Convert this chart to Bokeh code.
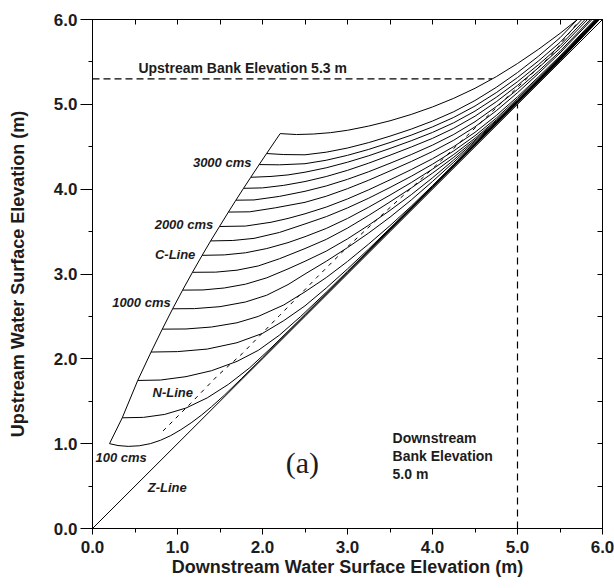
from bokeh.plotting import figure
from bokeh.models import Range1d, LinearAxis, Label, FixedTicker, PrintfTickFormatter
from bokeh.embed import file_html
from bokeh.resources import INLINE

# Rating curves: upstream vs downstream water surface elevation (m), one per discharge
flows_cms = [100, 200, 400, 600, 800, 1000, 1200, 1400, 1600, 1800,
             2000, 2200, 2400, 2600, 2800, 3000, 3200, 3400]

rating_x = [
    [0.20, 0.30, 0.42, 0.55, 0.68, 0.80, 0.92, 1.04, 1.16, 1.28, 1.40, 1.55, 1.75, 2.00, 2.50, 3.00, 3.50, 4.00, 4.50, 5.00, 5.50, 5.965],
    [0.35, 0.60, 0.85, 1.10, 1.35, 1.60, 1.85, 2.10, 2.50, 3.00, 3.50, 4.00, 4.50, 5.00, 5.50, 5.96],
    [0.532, 0.80, 1.10, 1.40, 1.70, 1.95, 2.20, 2.45, 2.75, 3.00, 3.50, 4.00, 4.50, 5.00, 5.50, 5.955],
    [0.689, 1.00, 1.35, 1.70, 2.00, 2.25, 2.50, 2.75, 3.00, 3.25, 3.50, 3.75, 4.00, 4.50, 5.00, 5.50, 5.951],
    [0.821, 1.10, 1.40, 1.70, 1.95, 2.25, 2.50, 2.75, 3.00, 3.25, 3.50, 3.75, 4.00, 4.25, 4.50, 4.75, 5.00, 5.25, 5.50, 5.948],
    [0.943, 1.20, 1.50, 1.80, 2.05, 2.30, 2.50, 2.75, 3.00, 3.25, 3.50, 3.75, 4.00, 4.25, 4.50, 4.75, 5.00, 5.25, 5.50, 5.943],
    [1.06, 1.30, 1.55, 1.80, 2.05, 2.30, 2.50, 2.75, 3.00, 3.25, 3.50, 3.75, 4.00, 4.25, 4.50, 4.75, 5.00, 5.25, 5.50, 5.938],
    [1.176, 1.45, 1.70, 1.95, 2.20, 2.50, 2.75, 3.00, 3.25, 3.50, 3.75, 4.00, 4.25, 4.50, 4.75, 5.00, 5.25, 5.50, 5.932],
    [1.29, 1.55, 1.80, 2.05, 2.30, 2.50, 2.75, 3.00, 3.25, 3.50, 3.75, 4.00, 4.25, 4.50, 4.75, 5.00, 5.25, 5.50, 5.927],
    [1.39, 1.65, 1.90, 2.20, 2.50, 2.75, 3.00, 3.25, 3.50, 3.75, 4.00, 4.25, 4.50, 4.75, 5.00, 5.25, 5.50, 5.92],
    [1.494, 1.80, 2.10, 2.30, 2.50, 2.75, 3.00, 3.25, 3.50, 3.75, 4.00, 4.25, 4.50, 4.75, 5.00, 5.25, 5.50, 5.91],
    [1.599, 1.85, 2.15, 2.50, 2.75, 3.00, 3.25, 3.50, 3.75, 4.00, 4.25, 4.50, 4.75, 5.00, 5.25, 5.50, 5.876],
    [1.687, 1.90, 2.20, 2.50, 2.75, 3.00, 3.25, 3.50, 3.75, 4.00, 4.25, 4.50, 4.75, 5.00, 5.25, 5.50, 5.857],
    [1.777, 2.00, 2.25, 2.50, 2.75, 3.00, 3.25, 3.50, 3.75, 4.00, 4.25, 4.50, 4.75, 5.00, 5.25, 5.50, 5.824],
    [1.862, 2.10, 2.30, 2.50, 2.75, 3.00, 3.25, 3.50, 3.75, 4.00, 4.25, 4.50, 4.75, 5.00, 5.25, 5.50, 5.795],
    [1.961, 2.20, 2.50, 2.75, 3.00, 3.25, 3.50, 3.75, 4.00, 4.25, 4.50, 4.75, 5.00, 5.25, 5.50, 5.757],
    [2.048, 2.25, 2.50, 2.75, 3.00, 3.25, 3.50, 3.75, 4.00, 4.25, 4.50, 4.75, 5.00, 5.25, 5.50, 5.705],
    [2.208, 2.40, 2.60, 2.80, 3.00, 3.25, 3.50, 3.75, 4.00, 4.25, 4.50, 4.75, 5.00, 5.25, 5.50, 5.70],
]

rating_y = [
    [1.00, 0.978, 0.968, 0.975, 1.00, 1.04, 1.095, 1.165, 1.245, 1.335, 1.435, 1.57, 1.765, 2.012, 2.512, 3.013, 3.513, 4.014, 4.515, 5.014, 5.514, 6.00],
    [1.305, 1.31, 1.345, 1.42, 1.54, 1.70, 1.895, 2.128, 2.522, 3.022, 3.52, 4.02, 4.521, 5.02, 5.518, 6.00],
    [1.745, 1.75, 1.79, 1.86, 1.97, 2.10, 2.28, 2.50, 2.785, 3.032, 3.53, 4.029, 4.527, 5.025, 5.522, 6.00],
    [2.08, 2.085, 2.115, 2.19, 2.30, 2.45, 2.625, 2.835, 3.06, 3.295, 3.54, 3.787, 4.035, 4.533, 5.03, 5.526, 6.00],
    [2.35, 2.352, 2.375, 2.425, 2.50, 2.635, 2.79, 2.958, 3.148, 3.354, 3.57, 3.799, 4.042, 4.292, 4.54, 4.786, 5.033, 5.281, 5.53, 6.00],
    [2.59, 2.592, 2.615, 2.67, 2.75, 2.875, 3.00, 3.15, 3.311, 3.484, 3.67, 3.873, 4.091, 4.318, 4.55, 4.788, 5.034, 5.284, 5.535, 6.00],
    [2.81, 2.812, 2.835, 2.88, 2.955, 3.06, 3.15, 3.27, 3.414, 3.576, 3.75, 3.935, 4.134, 4.345, 4.565, 4.796, 5.039, 5.289, 5.54, 6.00],
    [3.02, 3.022, 3.045, 3.095, 3.18, 3.30, 3.408, 3.541, 3.691, 3.85, 4.014, 4.189, 4.376, 4.58, 4.804, 5.044, 5.294, 5.546, 6.00],
    [3.22, 3.225, 3.25, 3.30, 3.37, 3.44, 3.537, 3.655, 3.788, 3.93, 4.078, 4.236, 4.409, 4.60, 4.816, 5.052, 5.301, 5.552, 6.00],
    [3.39, 3.395, 3.42, 3.49, 3.59, 3.676, 3.779, 3.894, 4.02, 4.152, 4.294, 4.451, 4.63, 4.837, 5.068, 5.312, 5.56, 6.00],
    [3.56, 3.565, 3.61, 3.655, 3.71, 3.789, 3.885, 3.993, 4.11, 4.231, 4.359, 4.502, 4.67, 4.868, 5.089, 5.327, 5.57, 6.00],
    [3.73, 3.733, 3.78, 3.845, 3.917, 4.006, 4.106, 4.215, 4.326, 4.444, 4.577, 4.735, 4.924, 5.137, 5.367, 5.605, 6.00],
    [3.87, 3.873, 3.915, 3.975, 4.038, 4.116, 4.206, 4.305, 4.408, 4.519, 4.645, 4.795, 4.973, 5.175, 5.394, 5.625, 6.00],
    [4.01, 4.015, 4.045, 4.09, 4.149, 4.222, 4.307, 4.40, 4.497, 4.599, 4.718, 4.86, 5.03, 5.223, 5.434, 5.66, 6.00],
    [4.14, 4.15, 4.168, 4.20, 4.252, 4.318, 4.394, 4.48, 4.571, 4.669, 4.783, 4.92, 5.083, 5.267, 5.47, 5.69, 6.00],
    [4.29, 4.287, 4.30, 4.341, 4.399, 4.469, 4.55, 4.637, 4.734, 4.846, 4.98, 5.138, 5.316, 5.514, 5.73, 6.00],
    [4.42, 4.408, 4.405, 4.436, 4.485, 4.549, 4.625, 4.708, 4.803, 4.913, 5.045, 5.20, 5.375, 5.57, 5.785, 6.00],
    [4.655, 4.644, 4.65, 4.666, 4.694, 4.744, 4.806, 4.881, 4.969, 5.071, 5.189, 5.326, 5.481, 5.651, 5.836, 5.996],
]

# N-Line (dashed) and Z-Line (equal elevations)
n_line_x = [0.83, 1.15, 1.47, 1.76, 2.20, 2.64, 3.00, 3.42, 4.00, 4.50, 5.00, 5.40, 5.72]
n_line_y = [1.15, 1.47, 1.80, 2.06, 2.51, 2.96, 3.32, 3.71, 4.24, 4.72, 5.20, 5.58, 5.98]
z_line_x = [0.0, 6.0]
z_line_y = [0.0, 6.0]

# Bank elevations (m)
upstream_bank_x = [0.0, 4.70]
upstream_bank_y = [5.3, 5.3]
downstream_bank_x = [5.0, 5.0]
downstream_bank_y = [0.0, 5.0]

major_ticks = [0.0, 1.0, 2.0, 3.0, 4.0, 5.0, 6.0]
minor_ticks = [0.5, 1.5, 2.5, 3.5, 4.5, 5.5]

# C-Line joins the upstream ends of the rating curves
c_line_x = [xs[0] for xs in rating_x]
c_line_y = [ys[0] for ys in rating_y]

FONT = "Liberation Sans"
INK = "#1c1c1c"

p = figure(width=614, height=588, x_range=Range1d(0, 6), y_range=Range1d(0, 6),
           output_backend="svg", toolbar_location=None,
           min_border_left=92, min_border_right=12, min_border_top=19, min_border_bottom=60)
p.xgrid.visible = False
p.ygrid.visible = False
p.outline_line_color = "black"
p.outline_line_width = 1
p.background_fill_color = "white"
p.border_fill_color = "white"

ticker = FixedTicker(ticks=major_ticks, minor_ticks=minor_ticks)
fmt = PrintfTickFormatter(format="%.1f")

for ax in (p.xaxis[0], p.yaxis[0]):
    ax.ticker = ticker
    ax.formatter = fmt
    ax.axis_line_color = "black"
    ax.major_tick_line_color = "black"
    ax.minor_tick_line_color = "black"
    ax.major_tick_in = 0
    ax.minor_tick_in = 0
    ax.major_label_text_font = FONT
    ax.major_label_text_font_style = "bold"
    ax.major_label_text_font_size = "17px"
    ax.major_label_text_color = INK
    ax.axis_label_text_font = FONT
    ax.axis_label_text_font_style = "bold"
    ax.axis_label_text_font_size = "18px"
    ax.axis_label_text_color = INK

p.xaxis.major_tick_out = 6
p.xaxis.minor_tick_out = 4
p.xaxis.major_label_standoff = 6
p.xaxis.axis_label = "Downstream Water Surface Elevation (m)"
p.xaxis.axis_label_standoff = 1

p.yaxis.major_tick_out = 12
p.yaxis.minor_tick_out = 4
p.yaxis.major_label_standoff = 3
p.yaxis.axis_label = "Upstream Water Surface Elevation (m)"
p.yaxis.axis_label_standoff = 23

# mirrored axes on top and right: unlabeled, every tick drawn inward
inner_ticker = FixedTicker(ticks=[], minor_ticks=sorted(major_ticks + minor_ticks))
for side in ("above", "right"):
    ax = LinearAxis(ticker=inner_ticker, major_tick_in=0, major_tick_out=0,
                    minor_tick_in=5, minor_tick_out=0,
                    axis_line_color="black", minor_tick_line_color="black",
                    major_label_standoff=0)
    p.add_layout(ax, side)

# curves
p.multi_line(xs=rating_x, ys=rating_y, line_color="black", line_width=1)
p.line(c_line_x, c_line_y, line_color="black", line_width=1)
p.line(z_line_x, z_line_y, line_color="black", line_width=1)
p.line(n_line_x, n_line_y, line_color="black", line_width=1, line_dash="4 5")
p.line(upstream_bank_x, upstream_bank_y, line_color="black", line_width=1.2, line_dash="7 4")
p.line(downstream_bank_x, downstream_bank_y, line_color="black", line_width=1.2, line_dash="7 5")


def note(x, y, text, align="left", style="bold", size="13px", font=FONT, baseline="middle"):
    p.add_layout(Label(x=x, y=y, text=text, text_align=align, text_baseline=baseline,
                       text_font=font, text_font_style=style, text_font_size=size,
                       text_color=INK))


note(0.54, 5.43, "Upstream Bank Elevation 5.3 m", size="14px")
note(3.53, 1.07, "Downstream", size="14px")
note(3.53, 0.85, "Bank Elevation", size="14px")
note(3.53, 0.645, "5.0 m", size="14px")

note(1.87, 4.32, "3000 cms", align="right", style="bold italic")
note(1.42, 3.585, "2000 cms", align="right", style="bold italic")
note(1.21, 3.23, "C-Line", align="right", style="bold italic")
note(0.92, 2.665, "1000 cms", align="right", style="bold italic")
note(0.706, 1.60, "N-Line", style="bold italic")
note(0.035, 0.84, "100 cms", style="bold italic")
note(0.65, 0.48, "Z-Line", style="bold italic")

note(2.47, 0.78, "(a)", align="center", style="normal", size="30px", font="Liberation Serif")

open("out.html", "w").write(file_html(p, INLINE))
